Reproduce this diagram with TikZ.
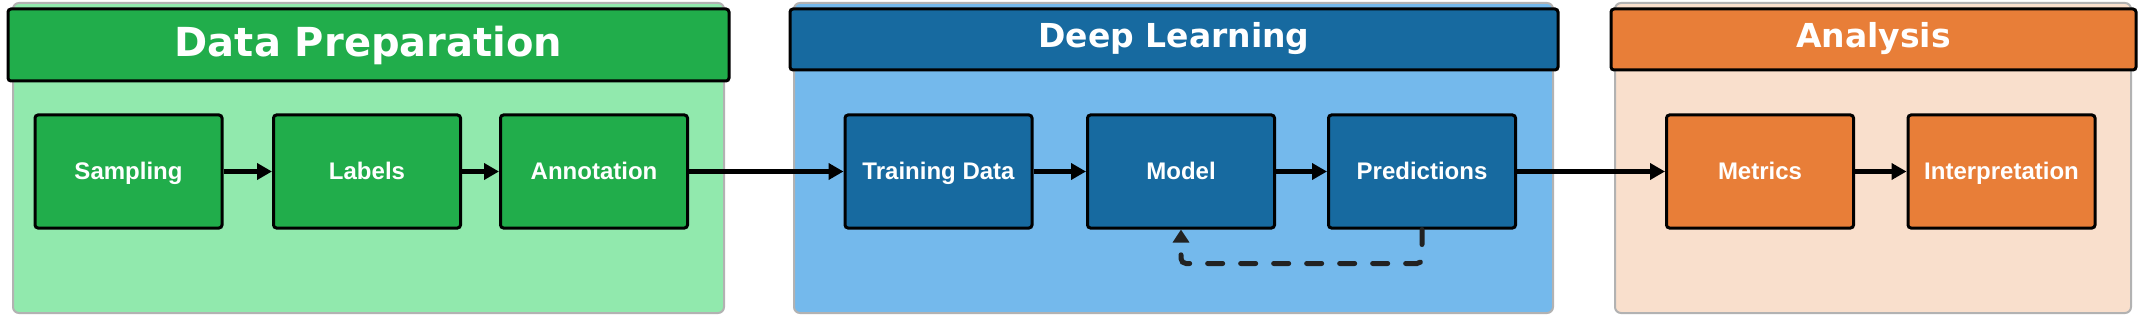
\documentclass[tikz,border=0pt]{standalone}
\usepackage{fontspec}
\usetikzlibrary{arrows.meta}
\newfontfamily\hdrfont{DejaVu Sans}
\newfontfamily\lblfont{Liberation Sans}
\definecolor{gdark}{HTML}{21AD4B}
\definecolor{glight}{HTML}{91E9AD}
\definecolor{bdark}{HTML}{176AA0}
\definecolor{blight}{HTML}{74B9EC}
\definecolor{odark}{HTML}{E87E38}
\definecolor{olight}{HTML}{F9DFCC}
\definecolor{fbgray}{HTML}{222222}
\begin{document}
\begin{tikzpicture}[x=1pt,y=-1pt,
  panelbody/.style={draw=gray!60, line width=2pt, rounded corners=6pt},
  header/.style={draw=black, line width=3pt, rounded corners=3pt, text=white,
    font=\hdrfont\bfseries\fontsize{33}{40}\selectfont, inner sep=0pt,
    text height=24pt, text depth=7pt, minimum height=61pt},
  stage/.style={draw=black, line width=3pt, rounded corners=3pt,
    minimum width=187pt, minimum height=113pt, inner sep=0pt, text=white,
    font=\lblfont\bfseries\fontsize{24}{28}\selectfont,
    text height=17pt, text depth=1pt},
  conn/.style={draw=black, line width=5pt, -{Triangle[length=15pt,width=16pt]}},
  fb/.style={draw=fbgray, line width=5pt, dash pattern=on 15pt off 18pt,
    line cap=round, rounded corners=5pt, -{Triangle[length=13pt,width=16pt]}},
]
\useasboundingbox (0,0) rectangle (2145,318);
\fill[white] (0,0) rectangle (2145,318);

% panel bodies
\filldraw[panelbody, fill=glight] (13,3) rectangle (724,313);
\filldraw[panelbody, fill=blight] (794,3) rectangle (1553,313);
\filldraw[panelbody, fill=olight] (1615,3) rectangle (2131,313);

% headers
\node[header, fill=gdark, minimum width=721pt, minimum height=72pt,
  font=\hdrfont\bfseries\fontsize{40}{48}\selectfont,
  text height=30pt, text depth=6pt] (hprep) at (368.5,45) {Data Preparation};
\node[header, fill=bdark, minimum width=768pt] (hdeep) at (1174,39.5) {Deep Learning};
\node[header, fill=odark, minimum width=525pt] (hana) at (1873.5,39.5) {Analysis};

% stages
\node[stage, fill=gdark] (samp) at (128.5,171.5) {Sampling};
\node[stage, fill=gdark] (lab) at (367,171.5) {Labels};
\node[stage, fill=gdark] (ann) at (594,171.5) {Annotation};
\node[stage, fill=bdark] (train) at (938.5,171.5) {Training Data};
\node[stage, fill=bdark] (model) at (1181,171.5) {Model};
\node[stage, fill=bdark] (pred) at (1422,171.5) {Predictions};
\node[stage, fill=odark] (met) at (1760,171.5) {Metrics};
\node[stage, fill=odark] (interp) at (2001.5,171.5) {Interpretation};

% connectors
\draw[conn] (samp) -- (lab);
\draw[conn] (lab) -- (ann);
\draw[conn] (ann) -- (train);
\draw[conn] (train) -- (model);
\draw[conn] (model) -- (pred);
\draw[conn] (pred) -- (met);
\draw[conn] (met) -- (interp);
\draw[fb] (pred.south) -- ++(0,34) -| (model.south);
\end{tikzpicture}
\end{document}
